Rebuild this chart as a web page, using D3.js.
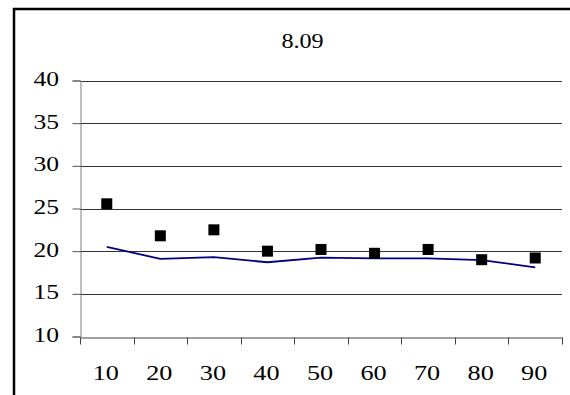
<!DOCTYPE html>
<html>
<head>
<meta charset="utf-8">
<script src="https://cdn.jsdelivr.net/npm/d3@7"></script>
<style>
  html, body { margin: 0; padding: 0; background: #fff; }
  svg { display: block; }
</style>
</head>
<body>
<svg id="chart" width="570" height="395"></svg>
<script>
const title = "8.09";
const categories = ["10", "20", "30", "40", "50", "60", "70", "80", "90"];
const markerValues = [25.55, 21.8, 22.5, 20.0, 20.2, 19.75, 20.2, 19.0, 19.2];
const lineValues = [20.5, 19.1, 19.3, 18.7, 19.25, 19.15, 19.15, 18.95, 18.1];
const yTicks = [10, 15, 20, 25, 30, 35, 40];

const FONT = "'Liberation Serif', 'Times New Roman', serif";
const STRETCH = 1.22;

const svg = d3.select("#chart");

// outer chart border
svg.append("rect")
  .attr("x", 14).attr("y", 9)
  .attr("width", 600).attr("height", 420)
  .attr("fill", "none").attr("stroke", "#000").attr("stroke-width", 2.5);

const x = d3.scaleBand().domain(categories).range([80, 562]).padding(0);
const y = d3.scaleLinear().domain([10, 40]).range([336.5, 80.5]);

// gridlines
svg.append("g").selectAll("line")
  .data(yTicks.filter(t => t > 10))
  .join("line")
  .attr("x1", 80).attr("x2", 562)
  .attr("y1", d => Math.round(y(d)) + 0.5).attr("y2", d => Math.round(y(d)) + 0.5)
  .attr("stroke", "#333").attr("stroke-width", 1);

// y axis (lines and ticks)
const yAxis = svg.append("g")
  .attr("transform", "translate(80.5,0)")
  .call(d3.axisLeft(y).tickValues(yTicks).tickSize(8).tickFormat(""));
yAxis.select(".domain").attr("stroke", "#808080");
yAxis.selectAll(".tick line").attr("stroke", "#555");
yAxis.selectAll(".tick text").remove();

// y labels (stretched serif text like the reference)
svg.append("g").selectAll("text")
  .data(yTicks)
  .join("text")
  .attr("transform", d => `translate(59,${y(d) + 5.5}) scale(${STRETCH},1)`)
  .attr("text-anchor", "end")
  .style("font-family", FONT)
  .style("font-size", "21px")
  .attr("fill", "#000")
  .text(d => d3.format("d")(d));

// x axis: domain, ticks at band boundaries
const x0 = Math.round(y(10)) + 0.5;
const xAxis = svg.append("g")
  .attr("transform", `translate(0,${x0})`)
  .call(d3.axisBottom(x).tickSize(0).tickFormat(""));
xAxis.select(".domain").attr("stroke", "#444");
xAxis.selectAll(".tick").remove();
const bounds = categories.map(c => x(c)).concat([x.range()[1]]);
xAxis.selectAll("line.bt")
  .data(bounds)
  .join("line")
  .attr("class", "bt")
  .attr("x1", d => Math.round(d) + 0.5).attr("x2", d => Math.round(d) + 0.5)
  .attr("y1", 0).attr("y2", 7)
  .attr("stroke", "#444");

// x labels
svg.append("g").selectAll("text")
  .data(categories)
  .join("text")
  .attr("transform", d => `translate(${x(d) + x.bandwidth() / 2 - 1},${x0 + 42}) scale(${STRETCH},1)`)
  .attr("text-anchor", "middle")
  .style("font-family", FONT)
  .style("font-size", "21.5px")
  .attr("fill", "#000")
  .text(d => d);

// line series
const line = d3.line()
  .x((d, i) => x(categories[i]) + x.bandwidth() / 2)
  .y(d => y(d));
svg.append("path")
  .datum(lineValues)
  .attr("d", line)
  .attr("fill", "none")
  .attr("stroke", "#000080")
  .attr("stroke-width", 1.8);

// marker series
const ms = 11;
svg.append("g").selectAll("rect")
  .data(markerValues)
  .join("rect")
  .attr("x", (d, i) => x(categories[i]) + x.bandwidth() / 2 - ms / 2)
  .attr("y", d => y(d) - ms / 2)
  .attr("width", ms).attr("height", ms)
  .attr("fill", "#000");

// title
svg.append("text")
  .attr("transform", `translate(302.5,48) scale(1.15,1)`)
  .attr("text-anchor", "middle")
  .style("font-family", FONT)
  .style("font-size", "21px")
  .attr("fill", "#000")
  .text(title);
</script>
</body>
</html>
